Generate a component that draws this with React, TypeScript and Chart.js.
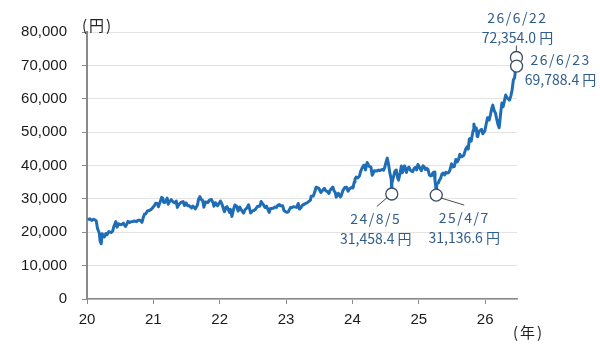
import { useEffect, useRef } from 'react';
import { Chart, registerables } from 'chart.js';

Chart.register(...registerables);

const dates: string[] = [
  '2020-01-06','2020-01-17','2020-01-27','2020-02-06','2020-02-14','2020-02-21','2020-02-28','2020-03-09','2020-03-13','2020-03-19','2020-03-25','2020-03-31',
  '2020-04-06','2020-04-14','2020-04-21','2020-04-30','2020-05-14','2020-05-22','2020-05-29','2020-06-08','2020-06-15','2020-06-23','2020-06-30',
  '2020-07-10','2020-07-20','2020-07-31','2020-08-07','2020-08-14','2020-08-21','2020-08-31','2020-09-10','2020-09-18','2020-09-30',
  '2020-10-09','2020-10-20','2020-10-30','2020-11-06','2020-11-13','2020-11-20','2020-11-30','2020-12-08','2020-12-18','2020-12-30',
  '2021-01-08','2021-01-14','2021-01-22','2021-01-29','2021-02-05','2021-02-16','2021-02-22','2021-02-26','2021-03-05','2021-03-18','2021-03-24','2021-03-31',
  '2021-04-09','2021-04-20','2021-04-30','2021-05-07','2021-05-13','2021-05-21','2021-05-31','2021-06-14','2021-06-21','2021-06-30',
  '2021-07-09','2021-07-16','2021-07-30','2021-08-06','2021-08-20','2021-08-31','2021-09-07','2021-09-14','2021-09-21','2021-09-30',
  '2021-10-06','2021-10-15','2021-10-29','2021-11-05','2021-11-16','2021-11-26','2021-11-30','2021-12-08','2021-12-20','2021-12-30',
  '2022-01-05','2022-01-13','2022-01-27','2022-02-04','2022-02-10','2022-02-24','2022-03-01','2022-03-09','2022-03-18','2022-03-25',
  '2022-04-05','2022-04-12','2022-04-21','2022-04-28','2022-05-12','2022-05-20','2022-05-31','2022-06-09','2022-06-20','2022-06-30',
  '2022-07-08','2022-07-15','2022-07-29','2022-08-10','2022-08-17','2022-08-31','2022-09-07','2022-09-15','2022-09-30',
  '2022-10-07','2022-10-14','2022-10-25','2022-10-31','2022-11-10','2022-11-15','2022-11-25','2022-11-30','2022-12-13','2022-12-20','2022-12-30',
  '2023-01-06','2023-01-13','2023-01-25','2023-01-31','2023-02-10','2023-02-28','2023-03-09','2023-03-16','2023-03-24','2023-03-31',
  '2023-04-14','2023-04-28','2023-05-15','2023-05-19','2023-05-31','2023-06-09','2023-06-15','2023-06-19','2023-06-30',
  '2023-07-07','2023-07-12','2023-07-20','2023-07-31','2023-08-08','2023-08-15','2023-08-25','2023-08-31','2023-09-15','2023-09-22','2023-09-29',
  '2023-10-04','2023-10-16','2023-10-26','2023-10-31','2023-11-10','2023-11-20','2023-11-30','2023-12-08','2023-12-15','2023-12-29',
  '2024-01-04','2024-01-11','2024-01-15','2024-01-22','2024-01-31','2024-02-09','2024-02-15','2024-02-22','2024-03-04','2024-03-07','2024-03-13','2024-03-22',
  '2024-04-01','2024-04-12','2024-04-19','2024-04-30','2024-05-15','2024-05-24','2024-05-31','2024-06-14','2024-06-21','2024-06-28',
  '2024-07-04','2024-07-11','2024-07-19','2024-07-25','2024-08-02','2024-08-05','2024-08-06','2024-08-15','2024-08-23','2024-08-30',
  '2024-09-06','2024-09-11','2024-09-20','2024-09-27','2024-10-02','2024-10-15','2024-10-25','2024-10-31','2024-11-08','2024-11-15','2024-11-22','2024-11-29',
  '2024-12-06','2024-12-13','2024-12-20','2024-12-27',
  '2025-01-06','2025-01-15','2025-01-24','2025-01-31','2025-02-07','2025-02-14','2025-02-21','2025-02-28','2025-03-07','2025-03-14','2025-03-19','2025-03-26','2025-03-31',
  '2025-04-04','2025-04-07','2025-04-09','2025-04-10','2025-04-18','2025-04-25','2025-04-30','2025-05-09','2025-05-15','2025-05-23','2025-05-30',
  '2025-06-06','2025-06-13','2025-06-20','2025-06-30','2025-07-07','2025-07-15','2025-07-24','2025-07-31','2025-08-08','2025-08-15','2025-08-22','2025-08-29',
  '2025-09-05','2025-09-16','2025-09-24','2025-09-30','2025-10-06','2025-10-10','2025-10-16','2025-10-27','2025-10-31','2025-11-04','2025-11-13','2025-11-18','2025-11-21','2025-11-28',
  '2025-12-05','2025-12-12','2025-12-19','2025-12-30',
  '2026-01-07','2026-01-14','2026-01-23','2026-01-30','2026-02-06','2026-02-12','2026-02-20','2026-02-27','2026-03-06','2026-03-13','2026-03-19','2026-03-27',
  '2026-04-03','2026-04-10','2026-04-17','2026-04-24','2026-05-01','2026-05-15','2026-05-22','2026-05-29','2026-06-05','2026-06-12','2026-06-17','2026-06-19','2026-06-22','2026-06-23',
];

const prices: number[] = [
  23704,24041,23543,23873,23687,23387,21142,19698,17431,16552,19546,18917,
  18576,19638,19280,20193,19914,20388,21877,23178,21530,22549,22288,
  22290,22717,21710,22329,23289,22920,23139,23235,23360,23185,
  23620,23567,22977,24325,25385,25527,26433,26467,26763,27444,
  28139,28698,28631,27663,28779,30467,30156,28966,28864,30216,28405,29179,
  29768,29100,28813,29358,27448,28318,28860,29161,28010,28791,
  27940,28003,27283,27820,27013,28089,29916,30670,29840,29452,
  27528,29068,28892,29612,29808,28751,27821,28860,27937,28791,
  29332,28489,26170,27439,27696,25970,26844,24717,26827,28149,
  27787,26334,27553,26847,25748,26739,27279,28246,25771,26393,
  26517,26788,27801,27819,29222,28091,27430,27875,25937,
  27116,27090,27250,27587,27446,27990,28283,27968,27954,26568,26095,
  25974,26119,27395,27327,27671,27446,28623,26945,27385,28041,
  28493,28856,29626,30808,30888,32265,33485,33370,33189,
  32388,31943,32491,33172,32377,32238,31624,32619,33533,32402,31857,
  30526,31659,30601,30858,32568,33388,33486,32307,32970,33464,
  33288,35049,35901,36547,36287,36897,38157,39098,40109,40090,38695,40888,
  39803,39523,37068,38406,38385,38646,38487,38814,38596,39583,
  40913,42224,40063,37869,35909,31458.4,34675,36726,38364,38647,
  36391,35620,37723,39829,37808,39910,37913,39081,39500,38642,38283,38208,
  39091,39470,38701,40281,
  39307,38444,39931,39572,38787,39149,38776,37155,36887,37053,37751,38027,35617,
  33780,31136.6,31714,34609,34730,35705,36045,37503,37755,37160,37965,
  37741,37834,38403,40487,39587,39678,41826,41070,41820,43378,42633,42718,
  43018,44902,45630,44933,47944,48089,47277,50512,52411,51497,51281,48702,48625,50253,
  50491,50836,49507,50339,
  52500,54300,53600,55200,57000,58100,56400,55700,53800,52200,51300,55500,
  58700,57600,59400,61100,60300,59600,60800,62500,65600,66300,68600,69300,72354.0,69788.4,
];

const yMin = 0;
const yMax = 80000;
const yStep = 10000;
const xMinYear = 20;
const xMaxYear = 26.48;

const annotationDates = ['2024-08-05', '2025-04-07', '2026-06-22', '2026-06-23'];
const annotationLabels = ['24/8/5', '25/4/7', '26/6/22', '26/6/23'];
const yUnit = '(円)';
const xUnit = '(年)';
const valueSuffix = ' 円';

function toYear(d: string): number {
  const [y, m, dd] = d.split('-').map(Number);
  const start = Date.UTC(y, 0, 1);
  const end = Date.UTC(y + 1, 0, 1);
  return (y - 2000) + (Date.UTC(y, m - 1, dd) - start) / (end - start);
}

// placement of annotation pieces relative to the marked point (pixels)
const annotLayout = [
  { lead: [-4.5, 3.5, -15, 12.5], tx: -16, ty1: 25, ty2: 45 },
  { lead: [5, 3, 28, 10], tx: 28, ty1: 23, ty2: 43 },
  { lead: [0, -6, 0, -12], tx: 1, ty1: -40, ty2: -19.5 },
  { lead: null as null | number[], tx: 44, ty1: -6.7, ty2: 13.5 },
];

const annotPlugin = {
  id: 'annot',
  afterDatasetsDraw(chart: any) {
    const ctx = chart.ctx as any;
    const xs = chart.scales.x;
    const ys = chart.scales.y;
    ctx.save();
    annotationDates.forEach((d, i) => {
      const idx = dates.indexOf(d);
      if (idx < 0) return;
      const v = prices[idx];
      const px = xs.getPixelForValue(toYear(d));
      const py = ys.getPixelForValue(v);
      const L = annotLayout[i];
      if (L.lead) {
        ctx.beginPath();
        ctx.strokeStyle = '#4d4d4d';
        ctx.lineWidth = 1;
        ctx.moveTo(px + L.lead[0], py + L.lead[1]);
        ctx.lineTo(px + L.lead[2], py + L.lead[3]);
        ctx.stroke();
      }
      ctx.beginPath();
      ctx.arc(px, py, 6, 0, Math.PI * 2);
      ctx.fillStyle = '#ffffff';
      ctx.fill();
      ctx.strokeStyle = '#3a4d63';
      ctx.lineWidth = 1.3;
      ctx.stroke();
      ctx.fillStyle = '#2f5d8c';
      ctx.font = '14px "Noto Sans CJK JP", "Noto Sans", sans-serif';
      ctx.textAlign = 'center';
      ctx.textBaseline = 'middle';
      ctx.letterSpacing = '1.5px';
      ctx.fillText(annotationLabels[i], px + L.tx, py + L.ty1);
      ctx.letterSpacing = '0px';
      const vt = v.toLocaleString('en-US', { minimumFractionDigits: 1, maximumFractionDigits: 1 }) + valueSuffix;
      ctx.fillText(vt, px + L.tx, py + L.ty2);
    });
    // unit labels
    const ca = chart.chartArea;
    ctx.fillStyle = '#222222';
    ctx.font = '15px "Noto Sans CJK JP", sans-serif';
    ctx.textAlign = 'left';
    ctx.textBaseline = 'middle';
    ctx.letterSpacing = '2px';
    ctx.fillText(yUnit, ca.left - 5, ca.top - 7);
    ctx.fillText(xUnit, ca.right - 4, ca.bottom + 33);
    ctx.letterSpacing = '0px';
    ctx.restore();
  },
};

export default function App() {
  const ref = useRef<HTMLCanvasElement | null>(null);
  useEffect(() => {
    if (!ref.current) return;
    const points = dates.map((d, i) => ({ x: toYear(d), y: prices[i] }));
    const chart = new Chart(ref.current, {
      type: 'line',
      data: {
        datasets: [
          {
            data: points,
            borderColor: '#1f6db5',
            borderWidth: 3,
            pointRadius: 0,
            tension: 0,
            borderJoinStyle: 'round',
            fill: false,
          },
        ],
      },
      options: {
        animation: false,
        responsive: false,
        devicePixelRatio: 1,
        layout: { padding: { left: 0, top: 32, right: 83, bottom: 0 } },
        plugins: { legend: { display: false }, tooltip: { enabled: false } },
        scales: {
          x: {
            type: 'linear',
            min: xMinYear,
            max: xMaxYear,
            afterFit: (s: any) => { s.height = 60; },
            border: { color: '#8a8a8a', width: 1.5 },
            grid: { drawOnChartArea: false, drawTicks: true, tickLength: 5, tickColor: '#8a8a8a' },
            ticks: {
              stepSize: 1,
              includeBounds: false,
              padding: 7,
              color: '#1a1a1a',
              font: { family: '"Liberation Sans", Arial, sans-serif', size: 15 },
              callback: (v: any) => String(v),
            },
          },
          y: {
            min: yMin,
            max: yMax,
            afterFit: (s: any) => { s.width = 87; },
            border: { color: '#8a8a8a', width: 2 },
            grid: { color: '#e3e3e3', lineWidth: 1, tickLength: 5, tickColor: '#8a8a8a' },
            ticks: {
              stepSize: yStep,
              padding: 15,
              color: '#1a1a1a',
              font: { family: '"Liberation Sans", Arial, sans-serif', size: 15 },
              callback: (v: any) => Number(v).toLocaleString('en-US'),
            },
          },
        },
      },
      plugins: [annotPlugin],
    });
    return () => chart.destroy();
  }, []);
  return (
    <div style={{ position: 'fixed', left: 0, top: 0, width: 600, height: 359, background: '#fff' }}>
      <canvas ref={ref} width={600} height={359} />
    </div>
  );
}
